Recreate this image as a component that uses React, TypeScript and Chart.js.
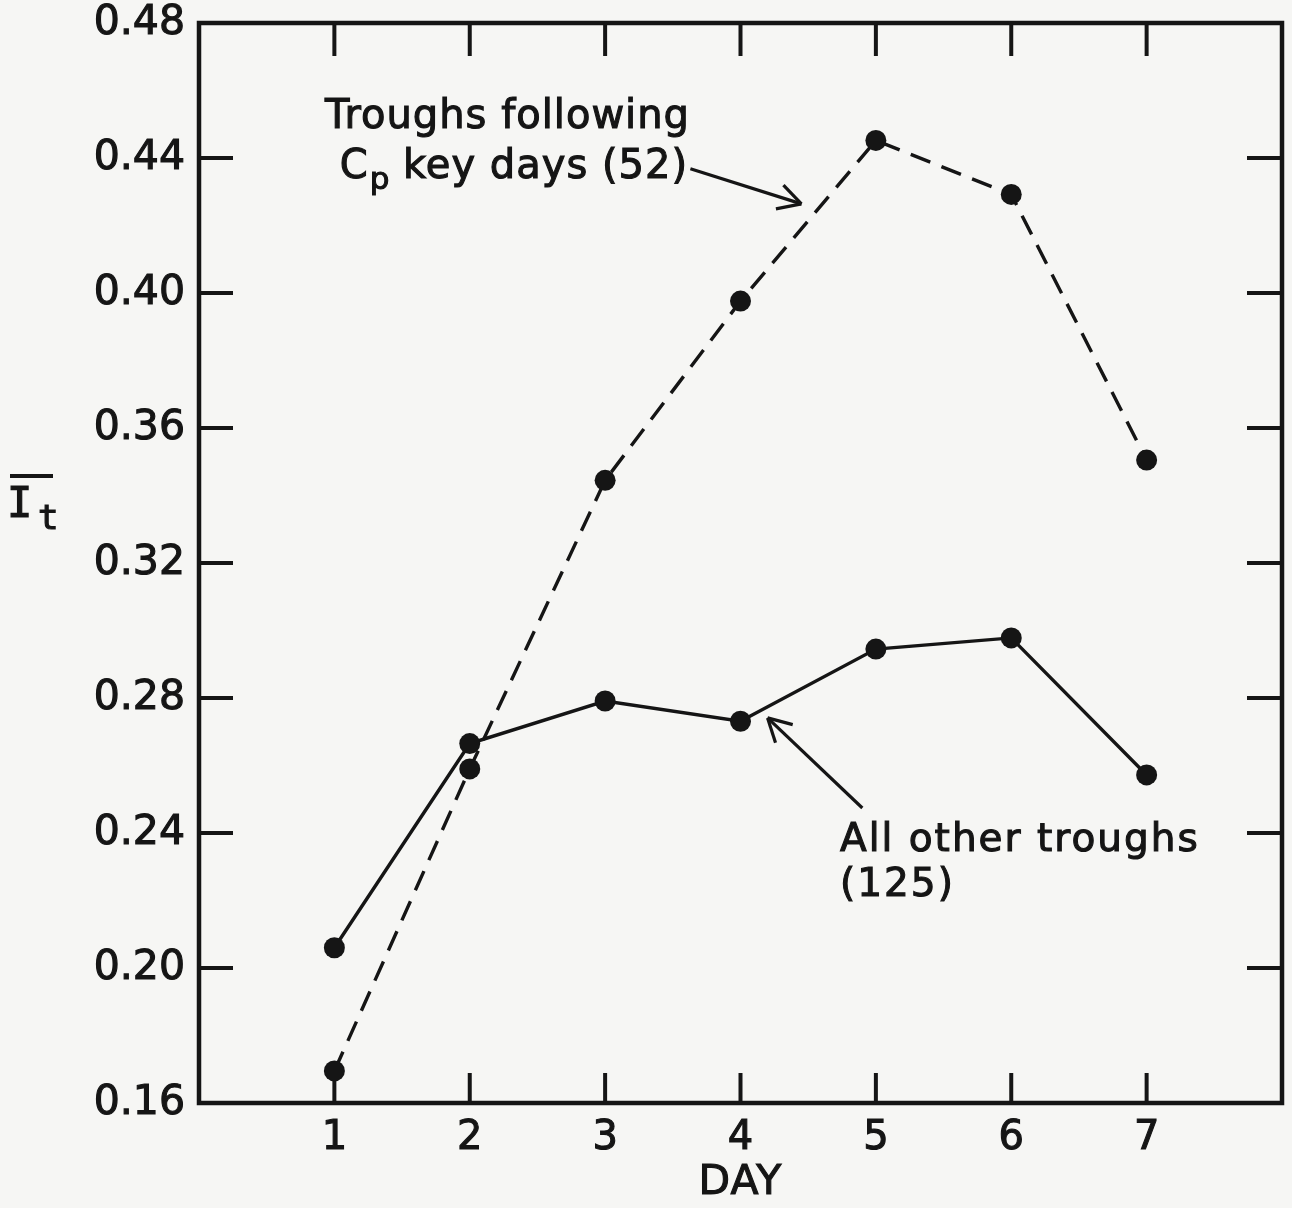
import React, { useEffect, useRef } from 'react';
import { Chart, registerables } from 'chart.js';

Chart.register(...registerables);

// ---- data ----
const days = [1, 2, 3, 4, 5, 6, 7];
const xTickValues = [0, 1, 2, 3, 4, 5, 6, 7, 8];
const xTickLabels = ['', '1', '2', '3', '4', '5', '6', '7', ''];
const yTickValues = [0.16, 0.2, 0.24, 0.28, 0.32, 0.36, 0.4, 0.44, 0.48];
const yTickLabels = ['0.16', '0.20', '0.24', '0.28', '0.32', '0.36', '0.40', '0.44', '0.48'];
const cpKeyDayTroughs = [0.1695, 0.259, 0.3445, 0.3976, 0.4452, 0.4292, 0.3505];
const otherTroughs = [0.206, 0.2665, 0.2791, 0.2731, 0.2945, 0.2978, 0.2572];

const cpLabelLine1 = 'Troughs following';
const cpLabelLine2a = 'C';
const cpLabelLine2sub = 'p';
const cpLabelLine2b = ' key days (52)';
const otherLabelLine1 = 'All other troughs';
const otherLabelLine2 = '(125)';
const xTitle = 'DAY';

const INK = '#151515';
const PAPER = '#f6f6f4';
const FONT = '"DejaVu Sans", "Liberation Sans", sans-serif';

function line(ctx: CanvasRenderingContext2D, x1: number, y1: number, x2: number, y2: number) {
  ctx.beginPath();
  ctx.moveTo(x1, y1);
  ctx.lineTo(x2, y2);
  ctx.stroke();
}

function arrow(ctx: CanvasRenderingContext2D, x1: number, y1: number, x2: number, y2: number) {
  line(ctx, x1, y1, x2, y2);
  const ang = Math.atan2(y2 - y1, x2 - x1);
  const len = 26;
  const spread = 0.5;
  line(ctx, x2, y2, x2 - len * Math.cos(ang - spread), y2 - len * Math.sin(ang - spread));
  line(ctx, x2, y2, x2 - len * Math.cos(ang + spread), y2 - len * Math.sin(ang + spread));
}

function heavyText(ctx: CanvasRenderingContext2D, text: string, x: number, y: number) {
  ctx.fillText(text, x, y);
  ctx.strokeText(text, x, y);
}

const framePlugin = {
  id: 'frameAndNotes',
  beforeDraw(chart: any) {
    const { ctx, width, height } = chart;
    ctx.save();
    ctx.fillStyle = PAPER;
    ctx.fillRect(0, 0, width, height);
    ctx.restore();
  },
  beforeDatasetsDraw(chart: any) {
    const { ctx, chartArea } = chart;
    const { left, top, right, bottom } = chartArea;
    const xs = chart.scales.x;
    const ys = chart.scales.y;
    ctx.save();
    ctx.strokeStyle = INK;
    ctx.lineWidth = 4.5;
    ctx.lineCap = 'square';
    ctx.strokeRect(left, top, right - left, bottom - top);
    ctx.lineCap = 'butt';
    ctx.lineWidth = 4;
    yTickValues.slice(1, -1).forEach((v) => {
      const py = ys.getPixelForValue(v);
      line(ctx, left, py, left + 34, py);
      line(ctx, right - 35, py, right, py);
    });
    days.forEach((d) => {
      const px = xs.getPixelForValue(d);
      line(ctx, px, top, px, top + 33);
      line(ctx, px, bottom, px, bottom - 30);
    });
    ctx.restore();
  },
  afterDraw(chart: any) {
    const { ctx, chartArea } = chart;
    const xs = chart.scales.x;
    const ys = chart.scales.y;
    const X = (v: number) => xs.getPixelForValue(v);
    const Y = (v: number) => ys.getPixelForValue(v);
    ctx.save();
    ctx.fillStyle = INK;
    ctx.strokeStyle = INK;
    ctx.lineWidth = 1.1;
    ctx.textBaseline = 'alphabetic';
    ctx.textAlign = 'left';
    (ctx as any).letterSpacing = '1px';

    // Annotation: Cp key days
    ctx.font = `40px ${FONT}`;
    heavyText(ctx, cpLabelLine1, X(0.93), Y(0.4489));
    let cx = X(1.04);
    const cy = Y(0.4342);
    heavyText(ctx, cpLabelLine2a, cx, cy);
    cx += ctx.measureText(cpLabelLine2a).width;
    ctx.font = `31px ${FONT}`;
    heavyText(ctx, cpLabelLine2sub, cx + 1, cy + 11);
    cx += ctx.measureText(cpLabelLine2sub).width;
    ctx.font = `40px ${FONT}`;
    heavyText(ctx, cpLabelLine2b, cx, cy);

    // Annotation: all other troughs
    ctx.font = `39px ${FONT}`;
    (ctx as any).letterSpacing = '2px';
    heavyText(ctx, otherLabelLine1, X(4.735), Y(0.2347));
    heavyText(ctx, otherLabelLine2, X(4.735), Y(0.2213));

    ctx.lineWidth = 3.2;
    arrow(ctx, X(3.63), Y(0.4368), X(4.45), Y(0.4264));
    arrow(ctx, X(4.9), Y(0.2474), X(4.2), Y(0.2741));

    // x axis title, drawn heavy to match the scanned lettering
    (ctx as any).letterSpacing = '1px';
    ctx.lineWidth = 1.1;
    ctx.textAlign = 'center';
    ctx.textBaseline = 'middle';
    ctx.font = `41px ${FONT}`;
    heavyText(ctx, xTitle, (chartArea.left + chartArea.right) / 2, chartArea.bottom + 80);

    // y axis title: I with overbar, subscript t
    ctx.textAlign = 'left';
    ctx.textBaseline = 'alphabetic';
    (ctx as any).letterSpacing = '0px';
    const tx = 12;
    const ty = chartArea.top + 494;
    ctx.lineWidth = 4;
    line(ctx, tx - 2, ty - 41, tx + 41, ty - 41);
    ctx.lineWidth = 1.2;
    ctx.font = `42px "DejaVu Sans Mono", monospace`;
    heavyText(ctx, 'I', tx - 5, ty);
    ctx.font = `34px "DejaVu Sans Mono", monospace`;
    heavyText(ctx, 't', tx + 26, ty + 12);
    ctx.restore();
  },
};

export default function App() {
  const canvasRef = useRef<HTMLCanvasElement | null>(null);

  useEffect(() => {
    const canvas = canvasRef.current;
    if (!canvas) return;
    const tickFont = { family: FONT, size: 41, lineHeight: 1 };
    const chart = new Chart(canvas, {
      type: 'line',
      data: {
        datasets: [
          {
            label: 'Troughs following Cp key days (52)',
            data: days.map((d, i) => ({ x: d, y: cpKeyDayTroughs[i] })),
            borderColor: INK,
            backgroundColor: INK,
            borderWidth: 3.4,
            borderDash: [21, 12],
            pointRadius: 10.5,
            pointBorderWidth: 0,
            pointBackgroundColor: INK,
            tension: 0,
          },
          {
            label: 'All other troughs (125)',
            data: days.map((d, i) => ({ x: d, y: otherTroughs[i] })),
            borderColor: INK,
            backgroundColor: INK,
            borderWidth: 3.4,
            pointRadius: 10.5,
            pointBorderWidth: 0,
            pointBackgroundColor: INK,
            tension: 0,
          },
        ],
      },
      options: {
        responsive: false,
        animation: false,
        devicePixelRatio: 1,
        layout: { autoPadding: false, padding: { top: 23, right: 10, left: 0, bottom: 0 } },
        plugins: { legend: { display: false }, tooltip: { enabled: false } },
        scales: {
          x: {
            type: 'linear',
            min: 0,
            max: 8,
            grid: { display: false, drawTicks: false },
            border: { display: false },
            afterBuildTicks: (s: any) => {
              s.ticks = xTickValues.map((v) => ({ value: v }));
            },
            afterFit: (s: any) => {
              s.height = 105;
              s.paddingLeft = 0;
              s.paddingRight = 0;
            },
            ticks: {
              autoSkip: false,
              maxRotation: 0,
              padding: 12,
              color: INK,
              textStrokeColor: INK,
              textStrokeWidth: 1.1,
              font: { family: FONT, size: 40, lineHeight: 1.2 },
              callback: (v: any) => xTickLabels[xTickValues.indexOf(Number(v))] ?? '',
            },
            title: { display: false, text: xTitle },
          },
          y: {
            type: 'linear',
            min: 0.16,
            max: 0.48,
            grid: { display: false, drawTicks: false },
            border: { display: false },
            afterBuildTicks: (s: any) => {
              s.ticks = yTickValues.map((v) => ({ value: v }));
            },
            afterFit: (s: any) => {
              s.width = 199;
              s.paddingTop = 0;
              s.paddingBottom = 0;
            },
            ticks: {
              padding: 14,
              color: INK,
              textStrokeColor: INK,
              textStrokeWidth: 1.1,
              font: tickFont,
              callback: (v: any) => {
                const i = yTickValues.findIndex((t) => Math.abs(t - Number(v)) < 1e-9);
                return i >= 0 ? yTickLabels[i] : '';
              },
            },
          },
        },
      },
      plugins: [framePlugin],
    });
    return () => chart.destroy();
  }, []);

  return (
    <div style={{ position: 'absolute', left: 0, top: 0, width: 1292, height: 1208, background: PAPER }}>
      <canvas ref={canvasRef} width={1292} height={1208} style={{ display: 'block', width: 1292, height: 1208 }} />
    </div>
  );
}
